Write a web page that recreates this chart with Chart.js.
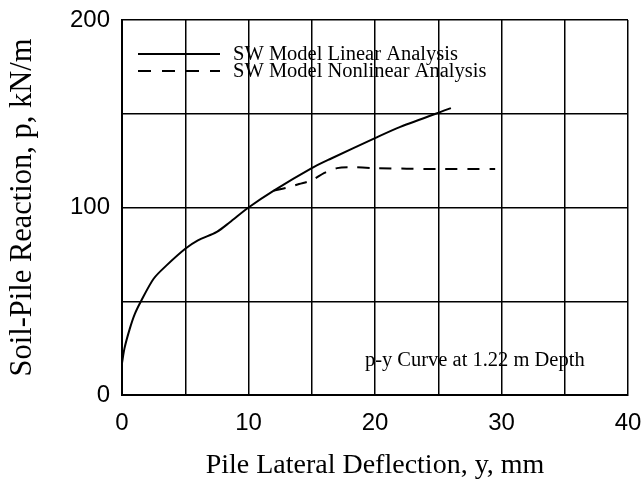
<!DOCTYPE html>
<html>
<head>
<meta charset="utf-8">
<script src="https://cdn.jsdelivr.net/npm/chart.js@4.4.0/dist/chart.umd.min.js"></script>
<style>
  html, body { margin: 0; padding: 0; background: #fff; }
  #wrap { width: 643px; height: 488px; }
</style>
</head>
<body>
<div id="wrap"><canvas id="py-chart"></canvas></div>
<script>
// p-y curve data (y in mm, p in kN/m)
const linearX = [0, 0.2, 0.6, 1.0, 1.5, 2.5, 3.5, 5, 6, 7.5, 8.5, 10, 12, 15, 16.5, 20, 22, 26];
const linearP = [17, 25, 35, 43, 50, 62, 69, 78, 82.5, 87, 92, 100, 109, 121, 126, 137, 143, 153];
const nonlinearX = [12, 13, 14, 15, 16, 17, 18, 20, 25, 29.5];
const nonlinearP = [109, 110.5, 112.5, 114.5, 118.5, 121, 121.5, 121, 120.5, 120.5];

const xTickLabels = ['0', '10', '20', '30', '40'];
const yTickLabels = ['0', '100', '200'];
const seriesNames = ['SW Model Linear Analysis', 'SW Model Nonlinear Analysis'];
const noteText = 'p-y Curve at 1.22 m Depth';

const serif = "'Liberation Serif', 'Times New Roman', serif";
const sans = "'Liberation Sans', Arial, sans-serif";

function toPoints(xs, ys) {
    return xs.map((x, i) => ({ x: x, y: ys[i] }));
}

// legend + note drawn inside the plot area, no background (grid shows through)
const insideText = {
    id: 'insideText',
    afterDraw(chart) {
        const ctx = chart.ctx;
        const area = chart.chartArea;
        const xs = chart.scales.x;
        const ys = chart.scales.y;
        ctx.save();
        ctx.strokeStyle = '#000';
        ctx.fillStyle = '#000';
        ctx.lineWidth = 2;
        ctx.font = '20.5px ' + serif;
        ctx.textBaseline = 'alphabetic';
        const rows = [{ y: area.top + 34, dash: [] }, { y: area.top + 51, dash: [13, 11] }];
        rows.forEach((r, i) => {
            ctx.setLineDash(r.dash);
            ctx.beginPath();
            ctx.moveTo(area.left + 16, r.y);
            ctx.lineTo(area.left + 98, r.y);
            ctx.stroke();
            ctx.fillText(seriesNames[i], area.left + 111, r.y + 6);
        });
        ctx.setLineDash([]);
        ctx.font = '20.5px ' + serif;
        ctx.fillText(noteText, xs.getPixelForValue(19.2), ys.getPixelForValue(15.5));
        ctx.restore();
    }
};

const ctx = document.getElementById('py-chart').getContext('2d');
new Chart(ctx, {
    type: 'scatter',
    data: {
        datasets: [
            {
                label: seriesNames[0],
                data: toPoints(linearX, linearP),
                showLine: true,
                borderColor: '#000',
                borderWidth: 2,
                pointRadius: 0,
                tension: 0.3
            },
            {
                label: seriesNames[1],
                data: toPoints(nonlinearX, nonlinearP),
                showLine: true,
                borderColor: '#000',
                borderWidth: 2,
                borderDash: [12, 10],
                pointRadius: 0,
                tension: 0.3
            }
        ]
    },
    options: {
        responsive: true,
        maintainAspectRatio: false,
        animation: false,
        layout: { padding: { left: 0, right: 15, top: 20, bottom: 0 } },
        plugins: {
            legend: { display: false },
            tooltip: { enabled: false }
        },
        scales: {
            x: {
                type: 'linear',
                min: 0,
                max: 40,
                afterFit(scale) {
                    scale.height = 93;
                    scale.paddingLeft = 0;
                    scale.paddingRight = 0;
                },
                ticks: {
                    stepSize: 5,
                    color: '#000',
                    padding: 14,
                    maxRotation: 0,
                    autoSkip: false,
                    font: { family: sans, size: 24 },
                    callback: (v) => xTickLabels.includes(String(v)) ? String(v) : ''
                },
                grid: { color: '#000', lineWidth: 1.5, drawTicks: false },
                border: { color: '#000', width: 2 },
                title: {
                    display: true,
                    text: 'Pile Lateral Deflection, y, mm',
                    color: '#000',
                    font: { family: serif, size: 28 },
                    padding: { top: 0, bottom: 6 }
                }
            },
            y: {
                type: 'linear',
                min: 0,
                max: 200,
                afterFit(scale) {
                    scale.width = 122;
                    scale.paddingTop = 0;
                    scale.paddingBottom = 0;
                },
                ticks: {
                    stepSize: 50,
                    color: '#000',
                    padding: 12,
                    autoSkip: false,
                    font: { family: sans, size: 24 },
                    callback: (v) => yTickLabels.includes(String(v)) ? String(v) : ''
                },
                grid: { color: '#000', lineWidth: 1.5, drawTicks: false },
                border: { color: '#000', width: 2 },
                title: {
                    display: true,
                    text: 'Soil-Pile Reaction, p, kN/m',
                    color: '#000',
                    font: { family: serif, size: 30.5 },
                    padding: { top: 5, bottom: 0 }
                }
            }
        }
    },
    plugins: [insideText]
});
</script>
</body>
</html>
